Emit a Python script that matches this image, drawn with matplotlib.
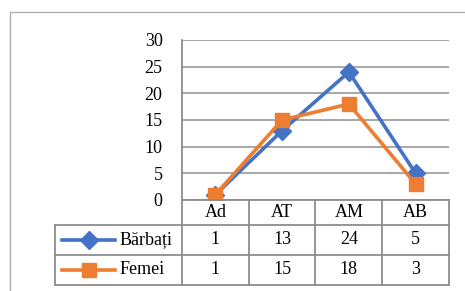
import matplotlib
matplotlib.use("Agg")
import matplotlib.pyplot as plt
from matplotlib.lines import Line2D
from matplotlib.transforms import blended_transform_factory

categories = ["Ad", "AT", "AM", "AB"]
barbati = [1, 13, 24, 5]
femei = [1, 15, 18, 3]
series_names = ["Bărbați", "Femei"]
yticks = [0, 5, 10, 15, 20, 25, 30]

W, H = 465, 291
blue = "#4472C4"
orange = "#ED7D31"
grid_c = "#A0A0A0"
table_c = "#8C8C8C"

plt.rcParams["font.family"] = ["Liberation Serif", "DejaVu Serif"]
fs = 13


def fx(px):
    return px / W


def fy(py):
    return 1 - py / H


fig = plt.figure(figsize=(W / 100, H / 100), dpi=100)
fig.patch.set_facecolor("white")

# outer chart border
fig.add_artist(Line2D([fx(10), fx(10), fx(470)], [fy(300), fy(11.5), fy(11.5)],
                      transform=fig.transFigure, color="#B0B0B0", lw=1.0))

ax = fig.add_axes([fx(182), fy(200), fx(449) - fx(182), fy(40) - fy(200)])
x = list(range(len(categories)))
ax.plot(x, barbati, color=blue, lw=2.6, marker="D", markersize=9, zorder=3)
ax.plot(x, femei, color=orange, lw=2.6, marker="s", markersize=10, zorder=4)
ax.set_xlim(-0.5, len(categories) - 0.5)
ax.set_ylim(0, 30)
ax.set_yticks(yticks)
ax.set_yticklabels([str(v) for v in yticks], fontsize=fs)
ax.set_xticks([])
ax.grid(axis="y", color=grid_c, lw=1.3)
ax.set_axisbelow(True)
for s in ["top", "right", "bottom"]:
    ax.spines[s].set_visible(False)
ax.spines["left"].set_color(table_c)
ax.spines["left"].set_linewidth(1.3)
ax.tick_params(axis="y", length=0, pad=14)

# data table
tf = fig.transFigure
lw_t = 1.3
col_edges = [182, 249, 315, 382, 449]
row_edges = [200, 225, 255, 285]
fig.add_artist(Line2D([fx(182), fx(449)], [fy(200), fy(200)], transform=tf, color=table_c, lw=lw_t))
for r in row_edges[1:]:
    fig.add_artist(Line2D([fx(55), fx(449)], [fy(r), fy(r)], transform=tf, color=table_c, lw=lw_t))
for c in col_edges:
    fig.add_artist(Line2D([fx(c), fx(c)], [fy(200), fy(285)], transform=tf, color=table_c, lw=lw_t))
fig.add_artist(Line2D([fx(55), fx(55)], [fy(225), fy(285)], transform=tf, color=table_c, lw=lw_t))

bt = blended_transform_factory(ax.transData, tf)
for i, c in enumerate(categories):
    fig.text(i, fy(212.5), c, transform=bt, ha="center", va="center", fontsize=fs)
for vals, rc in [(barbati, 240), (femei, 270)]:
    for i, v in enumerate(vals):
        fig.text(i, fy(rc), str(v), transform=bt, ha="center", va="center", fontsize=fs)

# legend keys
for name, col, mk, ms, rc in [(series_names[0], blue, "D", 9, 240),
                               (series_names[1], orange, "s", 10, 270)]:
    fig.add_artist(Line2D([fx(62), fx(115)], [fy(rc), fy(rc)], transform=tf, color=col, lw=2.6))
    fig.add_artist(Line2D([fx(89)], [fy(rc)], transform=tf, color=col, marker=mk,
                          markersize=ms, lw=0))
    fig.text(fx(120), fy(rc), name, ha="left", va="center", fontsize=fs)

fig.savefig("out.png", dpi=100)
